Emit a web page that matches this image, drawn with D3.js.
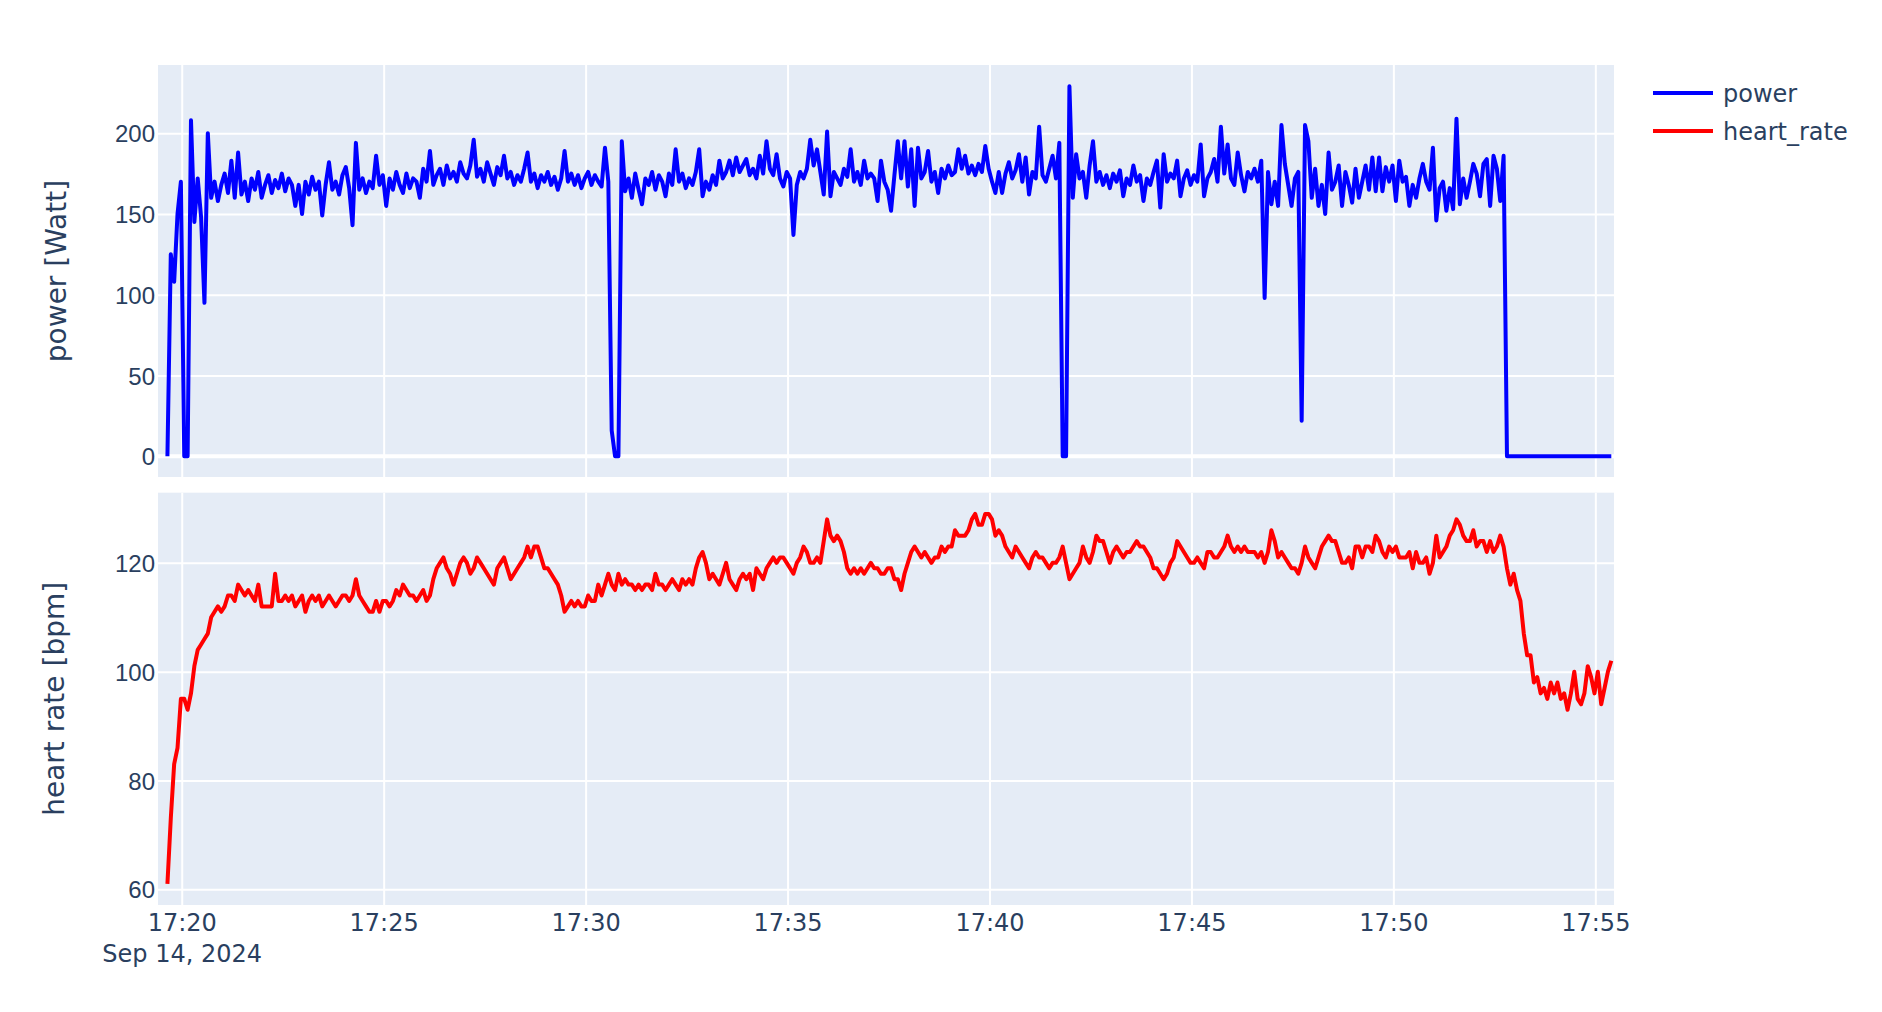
<!DOCTYPE html>
<html>
<head>
<meta charset="utf-8">
<script src="https://cdn.jsdelivr.net/npm/d3@7"></script>
<style>
    html, body { margin: 0; padding: 0; background: #fff; }
    svg { display: block; font-family: "DejaVu Sans", Verdana, sans-serif; }
</style>
</head>
<body>
<svg id="chart" width="1882" height="1012"></svg>
<script>
// 采样：从 17:19:38 开始，每 5 秒一个点
const sampleStart = new Date(2024, 8, 14, 17, 19, 38);
const sampleStepSec = 5;

// 功率 [Watt]
const powerWatt = [
    0,125,108,150,170,0,0,208,145,172,
    148,95,200,160,170,158,168,175,163,183,
    160,188,162,170,158,172,165,176,160,168,
    174,163,171,166,175,164,172,168,155,168,
    150,170,162,173,165,170,149,168,182,165,
    170,162,174,179,166,143,194,165,172,163,
    170,166,186,168,174,155,172,165,176,168,
    163,175,166,172,170,160,178,170,189,168,
    174,178,168,180,172,176,170,182,175,172,
    180,196,173,178,170,182,175,168,179,174,
    186,172,176,168,174,170,178,188,170,175,
    166,174,170,176,168,173,165,172,189,170,
    175,168,174,166,172,176,168,174,170,167,
    191,170,16,0,0,195,164,172,160,175,
    165,156,172,168,176,165,174,170,161,175,
    168,190,170,175,166,172,168,176,190,161,
    170,165,174,168,183,172,176,183,174,185,
    176,180,184,174,178,172,186,175,195,178,
    174,187,172,167,176,172,137,168,176,172,
    178,196,180,190,176,162,201,161,176,172,
    168,178,173,190,170,176,168,183,172,175,
    172,158,183,170,165,152,174,195,172,195,
    167,190,155,191,172,176,189,170,176,163,
    178,172,180,174,176,190,178,186,175,180,
    174,181,176,192,178,170,163,176,163,175,
    182,172,177,187,170,185,162,176,172,204,
    174,170,178,186,172,194,0,0,229,160,
    187,172,176,160,180,195,170,176,168,174,
    166,175,170,177,161,172,168,180,170,174,
    158,172,168,176,183,154,187,170,175,172,
    183,161,172,177,168,174,170,193,161,172,
    176,184,170,204,175,193,172,168,188,174,
    164,176,172,178,170,183,98,176,156,170,
    155,205,181,168,155,172,176,22,205,195,
    160,178,155,168,150,188,165,170,180,155,
    176,168,157,178,160,170,180,165,185,164,
    185,164,179,170,180,158,183,170,173,155,
    168,160,172,181,170,165,191,146,166,170,
    152,166,153,209,156,172,160,170,181,175,
    161,181,184,155,186,178,158,186,0,0,
    0,0,0,0,0,0,0,0,0,0,
    0,0,0,0,0,0,0,0,0,0,
    0,0,0,0,0,0,0,0,0,0
];

// 心率 [bpm]
const heartRateBpm = [
    61,73,83,86,95,95,93,96,101,104,
    105,106,107,110,111,112,111,112,114,114,
    113,116,115,114,115,114,113,116,112,112,
    112,112,118,113,113,114,113,114,112,113,
    114,111,113,114,113,114,112,113,114,113,
    112,113,114,114,113,114,117,114,113,112,
    111,111,113,111,113,113,112,113,115,114,
    116,115,114,114,113,114,115,113,114,117,
    119,120,121,119,118,116,118,120,121,120,
    118,119,121,120,119,118,117,116,119,120,
    121,119,117,118,119,120,121,123,121,123,
    123,121,119,119,118,117,116,114,111,112,
    113,112,113,112,112,114,113,113,116,114,
    116,118,116,115,118,116,117,116,116,115,
    116,115,116,116,115,118,116,116,115,116,
    117,116,115,117,116,117,116,119,121,122,
    120,117,118,117,116,118,120,117,116,115,
    117,118,117,118,115,119,118,117,119,120,
    121,120,121,121,120,119,118,120,121,123,
    122,120,120,121,120,124,128,125,124,125,
    124,122,119,118,119,118,119,118,119,120,
    119,119,118,118,119,119,117,117,115,118,
    120,122,123,122,121,122,121,120,121,121,
    123,122,123,123,126,125,125,125,126,128,
    129,127,127,129,129,128,125,126,125,123,
    122,121,123,122,121,120,119,121,122,121,
    121,120,119,120,120,121,123,120,117,118,
    119,120,123,121,120,122,125,124,124,122,
    120,122,123,122,121,122,122,123,124,123,
    123,122,121,119,119,118,117,118,120,121,
    124,123,122,121,120,120,121,120,119,122,
    122,121,121,122,123,125,123,122,123,122,
    123,122,122,122,121,122,120,122,126,124,
    121,122,121,120,119,119,118,120,123,121,
    120,119,121,123,124,125,124,124,122,120,
    120,121,119,123,123,121,123,123,122,125,
    124,122,121,123,122,123,121,121,121,122,
    119,122,120,120,121,118,120,125,121,122,
    123,125,126,128,127,125,124,124,126,123,
    124,124,122,124,122,123,125,123,119,116,
    118,115,113,107,103,103,98,99,96,97,
    95,98,96,98,95,96,93,96,100,95,
    94,96,101,99,96,100,94,97,100,102
];

// 刻度
const timeTicks = ['17:20', '17:25', '17:30', '17:35', '17:40', '17:45', '17:50', '17:55'];
const powerTicks = [0, 50, 100, 150, 200];
const heartRateTicks = [60, 80, 100, 120];
const dateLabel = 'Sep 14, 2024';

const svg = d3.select('#chart');
const textColor = '#2a3f5f';
const left = 158, right = 1614;

const parseTick = d3.timeParse('%Y-%m-%d %H:%M');
const tickTime = t => parseTick('2024-09-14 ' + t);
const sampleTimes = powerWatt.map((d, i) => new Date(sampleStart.getTime() + i * sampleStepSec * 1000));

const x = d3.scaleTime()
    .domain([new Date(2024, 8, 14, 17, 19, 24), new Date(2024, 8, 14, 17, 55, 27)])
    .range([left, right]);

const panels = [
    {
        id: 'power', top: 65, bottom: 477, domain: [-12.8, 242.2],
        ticks: powerTicks, values: powerWatt, color: '#0000ff',
        title: 'power [Watt]', titleX: 66, zeroLine: true
    },
    {
        id: 'hr', top: 492.7, bottom: 905, domain: [57.1, 132.9],
        ticks: heartRateTicks, values: heartRateBpm, color: '#ff0000',
        title: 'heart rate [bpm]', titleX: 64, zeroLine: false
    }
];

panels.forEach(drawPanel);

function drawPanel(p) {
    const y = d3.scaleLinear().domain(p.domain).range([p.bottom, p.top]);
    const g = svg.append('g');

    // 背景
    g.append('rect')
        .attr('x', left).attr('y', p.top)
        .attr('width', right - left).attr('height', p.bottom - p.top)
        .attr('fill', '#e5ecf6');

    // 竖向网格
    g.selectAll('.vgrid')
        .data(timeTicks)
        .enter().append('line')
        .attr('x1', d => x(tickTime(d)))
        .attr('x2', d => x(tickTime(d)))
        .attr('y1', p.top).attr('y2', p.bottom)
        .attr('stroke', '#fff').attr('stroke-width', 2);

    // y 轴
    const axis = g.append('g')
        .attr('transform', `translate(${left},0)`)
        .call(d3.axisLeft(y).tickValues(p.ticks).tickSize(-(right - left)).tickPadding(3));
    axis.select('.domain').remove();
    axis.selectAll('line').attr('stroke', '#fff').attr('stroke-width', 2);
    axis.selectAll('text')
        .attr('fill', textColor)
        .style('font-size', '24px')
        .attr('dy', '0.36em');

    if (p.zeroLine) {
        g.append('line')
            .attr('x1', left).attr('x2', right)
            .attr('y1', y(0)).attr('y2', y(0))
            .attr('stroke', '#fff').attr('stroke-width', 4);
    }

    // 数据线
    svg.append('clipPath').attr('id', 'clip-' + p.id)
        .append('rect')
        .attr('x', left).attr('y', p.top)
        .attr('width', right - left).attr('height', p.bottom - p.top);

    const line = d3.line()
        .x((d, i) => x(sampleTimes[i]))
        .y(d => y(d));

    g.append('path')
        .datum(p.values)
        .attr('clip-path', `url(#clip-${p.id})`)
        .attr('fill', 'none')
        .attr('stroke', p.color)
        .attr('stroke-width', 4)
        .attr('stroke-linejoin', 'round')
        .attr('d', line);

    // 轴标题
    g.append('text')
        .attr('transform', `translate(${p.titleX},${(p.top + p.bottom) / 2}) rotate(-90)`)
        .attr('text-anchor', 'middle')
        .attr('fill', textColor)
        .style('font-size', '28px')
        .text(p.title);
}

// x 轴标签
svg.append('g').selectAll('text')
    .data(timeTicks)
    .enter().append('text')
    .attr('x', d => x(tickTime(d)))
    .attr('y', 931)
    .attr('text-anchor', 'middle')
    .attr('fill', textColor)
    .style('font-size', '24px')
    .text(d => d);

svg.append('text')
    .attr('x', x(tickTime(timeTicks[0])))
    .attr('y', 962)
    .attr('text-anchor', 'middle')
    .attr('fill', textColor)
    .style('font-size', '24px')
    .text(dateLabel);

// 图例
const legendItems = [
    { label: 'power', color: '#0000ff' },
    { label: 'heart_rate', color: '#ff0000' }
];

const legend = svg.append('g').attr('transform', 'translate(1653,93)');
legendItems.forEach((item, i) => {
    const row = legend.append('g').attr('transform', `translate(0,${i * 38})`);
    row.append('line')
        .attr('x1', 0).attr('x2', 60)
        .attr('y1', 0).attr('y2', 0)
        .attr('stroke', item.color)
        .attr('stroke-width', 4);
    row.append('text')
        .attr('x', 70)
        .attr('y', 9)
        .attr('fill', textColor)
        .style('font-size', '24px')
        .text(item.label);
});
</script>
</body>
</html>
